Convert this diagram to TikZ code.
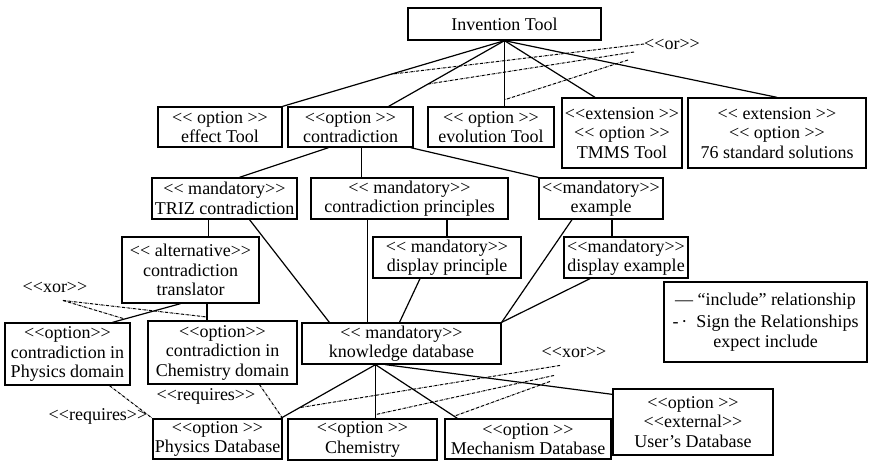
\documentclass[tikz,border=0pt]{standalone}
\usepackage{fontspec}
\setmainfont{Liberation Serif}[Ligatures=TeXOff]
\usetikzlibrary{calc}
\tikzstyle{rect} = [rectangle, draw=black, line width=1.3pt, align=center, inner sep=1pt, font=\fontsize{18}{19.5}\selectfont]
\tikzstyle{blank} = [rectangle, inner sep=0pt, font=\fontsize{18}{19}\selectfont]
\tikzstyle{line} = [line width=1.2pt]
\tikzstyle{dline} = [densely dash dot, line width=1pt]

\begin{document}
\begin{tikzpicture}[x=1pt,y=-1pt]
        \useasboundingbox (0,0) rectangle (869,461);
        \node[rect, minimum width=193, minimum height=32] (inv) at (504.5,24) {Invention Tool};

        \node[rect, minimum width=124, minimum height=40] (eff) at (220,127) {<< option >>\\effect Tool};
        \node[rect, minimum width=125, minimum height=40] (con) at (350.5,127) {<<option >>\\contradiction};
        \node[rect, minimum width=126, minimum height=40] (evo) at (491,127) {<< option >>\\evolution Tool};
        \node[rect, minimum width=120, minimum height=70] (tmms) at (622,133) {<<extension >>\\<< option >>\\TMMS Tool};
        \node[rect, minimum width=178, minimum height=70] (std) at (777,133) {<< extension >>\\<< option >>\\76 standard solutions};

        \node[rect, minimum width=145, minimum height=41] (triz) at (224.5,198.5) {<< mandatory>>\\TRIZ contradiction};
        \node[rect, minimum width=197, minimum height=41] (pri) at (409.5,198.5) {<< mandatory>>\\contradiction principles};
        \node[rect, minimum width=124, minimum height=41] (exa) at (601,198.5) {<<mandatory>>\\example};

        \node[rect, minimum width=137, minimum height=66] (tra) at (190.5,270) {<< alternative>>\\contradiction\\translator};
        \node[rect, minimum width=148, minimum height=41] (dpr) at (447,257.5) {<< mandatory>>\\display principle};
        \node[rect, minimum width=124, minimum height=41] (dex) at (626,257.5) {<<mandatory>>\\display example};

        \node[rect, minimum width=203, minimum height=80] (leg) at (765.5,322) {— “include” relationship\\[3pt]-\,·\ \ Sign the Relationships\\expect include};

        \node[rect, minimum width=125, minimum height=62] (phd) at (67.5,354) {<<option>>\\contradiction in\\Physics domain};
        \node[rect, minimum width=149, minimum height=63] (chd) at (222.5,352.5) {<<option>>\\contradiction in\\Chemistry domain};
        \node[rect, minimum width=199, minimum height=41] (kdb) at (401.5,343.5) {<< mandatory>>\\knowledge database};

        \node[rect, minimum width=129, minimum height=40] (phdb) at (217.5,439) {<<option >>\\Physics Database};
        \node[rect, minimum width=149, minimum height=41] (chdb) at (362.5,439.5) {<<option >>\\Chemistry};
        \node[rect, minimum width=166, minimum height=40] (mdb) at (528,439) {<<option >>\\Mechanism Database};
        \node[rect, minimum width=160, minimum height=66] (udb) at (693,422) {<<option >>\\<<external>>\\User’s Database};

        \node[blank] (or) at (672,44) {<<or>>};
        \node[blank] (xor1) at (55,287) {<<xor>>};
        \node[blank] (xor2) at (574,352) {<<xor>>};
        \node[blank] (req1) at (206,396) {<<requires>>};
        \node[blank] (req2) at (98,416) {<<requires>>};

        \coordinate (ce) at ([xshift=-25pt]con.north east);
        \coordinate (ev) at (inv.south |- evo.north);
        \coordinate (tp1) at ([xshift=-10pt]tra.south);
        \coordinate (tp2) at ([xshift=45pt]phd.north);
        \coordinate (tc1) at ([xshift=16.5pt]tra.south);
        \coordinate (tc2) at (tc1 |- chd.north);
        \coordinate (kb) at ([xshift=-26pt]kdb.south);
        \coordinate (kp) at ([xshift=-2pt]phdb.north east);
        \coordinate (kc) at (kb |- chdb.north);
        \coordinate (km) at ([xshift=13pt]mdb.north west);

        \draw[line] (inv.south) -- (eff.north east);
        \draw[line] (inv.south) -- (ce);
        \draw[line] (inv.south) -- (ev);
        \draw[line] (inv.south) -- ([xshift=-27pt]tmms.north);
        \draw[line] (inv.south) -- (std.north);
        \draw[line] ([xshift=-22pt]con.south) -- ([xshift=15pt]triz.north);
        \draw[line] ([xshift=11pt]con.south) -- ([xshift=11pt]con.south |- pri.north);
        \draw[line] ([xshift=-3pt]con.south east) -- (exa.north west);
        \draw[line] ([xshift=-16pt]triz.south) -- ([xshift=-16pt]triz.south |- tra.north);
        \draw[line] ([xshift=25pt]triz.south) -- ([xshift=28pt]kdb.north west);
        \draw[line] ([xshift=-42pt]pri.south) -- ([xshift=-42pt]pri.south |- kdb.north);
        \draw[line] (dpr.north |- pri.south) -- (dpr.north);
        \draw[line] ([xshift=-27pt]dpr.south) -- ([xshift=-2pt]kdb.north);
        \draw[line] ([xshift=11pt]exa.south) -- ([xshift=11pt]exa.south |- dex.north);
        \draw[line] ([xshift=-29pt]exa.south) -- (kdb.north east);
        \draw[line] ([xshift=-36pt]dex.south) -- (kdb.north east);
        \draw[line] (tp1) -- (tp2);
        \draw[line] (tc1) -- (tc2);
        \draw[line] (kb) -- (kp);
        \draw[line] (kb) -- (kc);
        \draw[line] (kb) -- (km);
        \draw[line] ([xshift=-16pt]kdb.south) -- ([yshift=-6pt]udb.north west);

        \draw[dline] (or.west) -- ($(inv.south)!0.51!(eff.north east)$);
        \draw[dline] ([xshift=-10pt,yshift=-8pt]or.west) -- ($(inv.south)!0.66!(ce)$);
        \draw[dline] ([xshift=-16pt,yshift=-16pt]or.west) -- ($(inv.south)!0.9!(ev)$);

        \draw[dline] ([xshift=8pt,yshift=-8pt]xor1.south) -- ($(tp1)!0.82!(tp2)$);
        \draw[dline] ([xshift=8pt,yshift=-8pt]xor1.south) -- ($(tc1)!0.8!(tc2)$);

        \draw[dline] ([xshift=-14pt,yshift=-8pt]xor2.south) -- ($(kb)!0.8!(kp)$);
        \draw[dline] ([xshift=-20pt,yshift=-18pt]xor2.south) -- ($(kb)!0.93!(kc)$);
        \draw[dline] ([xshift=-24pt,yshift=-24pt]xor2.south) -- ($(kb)!0.96!(km)$);

        \draw[dline] ([xshift=42pt]phd.south) -- (phdb.north west);
        \draw[dline] ([xshift=37pt]chd.south) -- (phdb.north east);
\end{tikzpicture}
\end{document}
